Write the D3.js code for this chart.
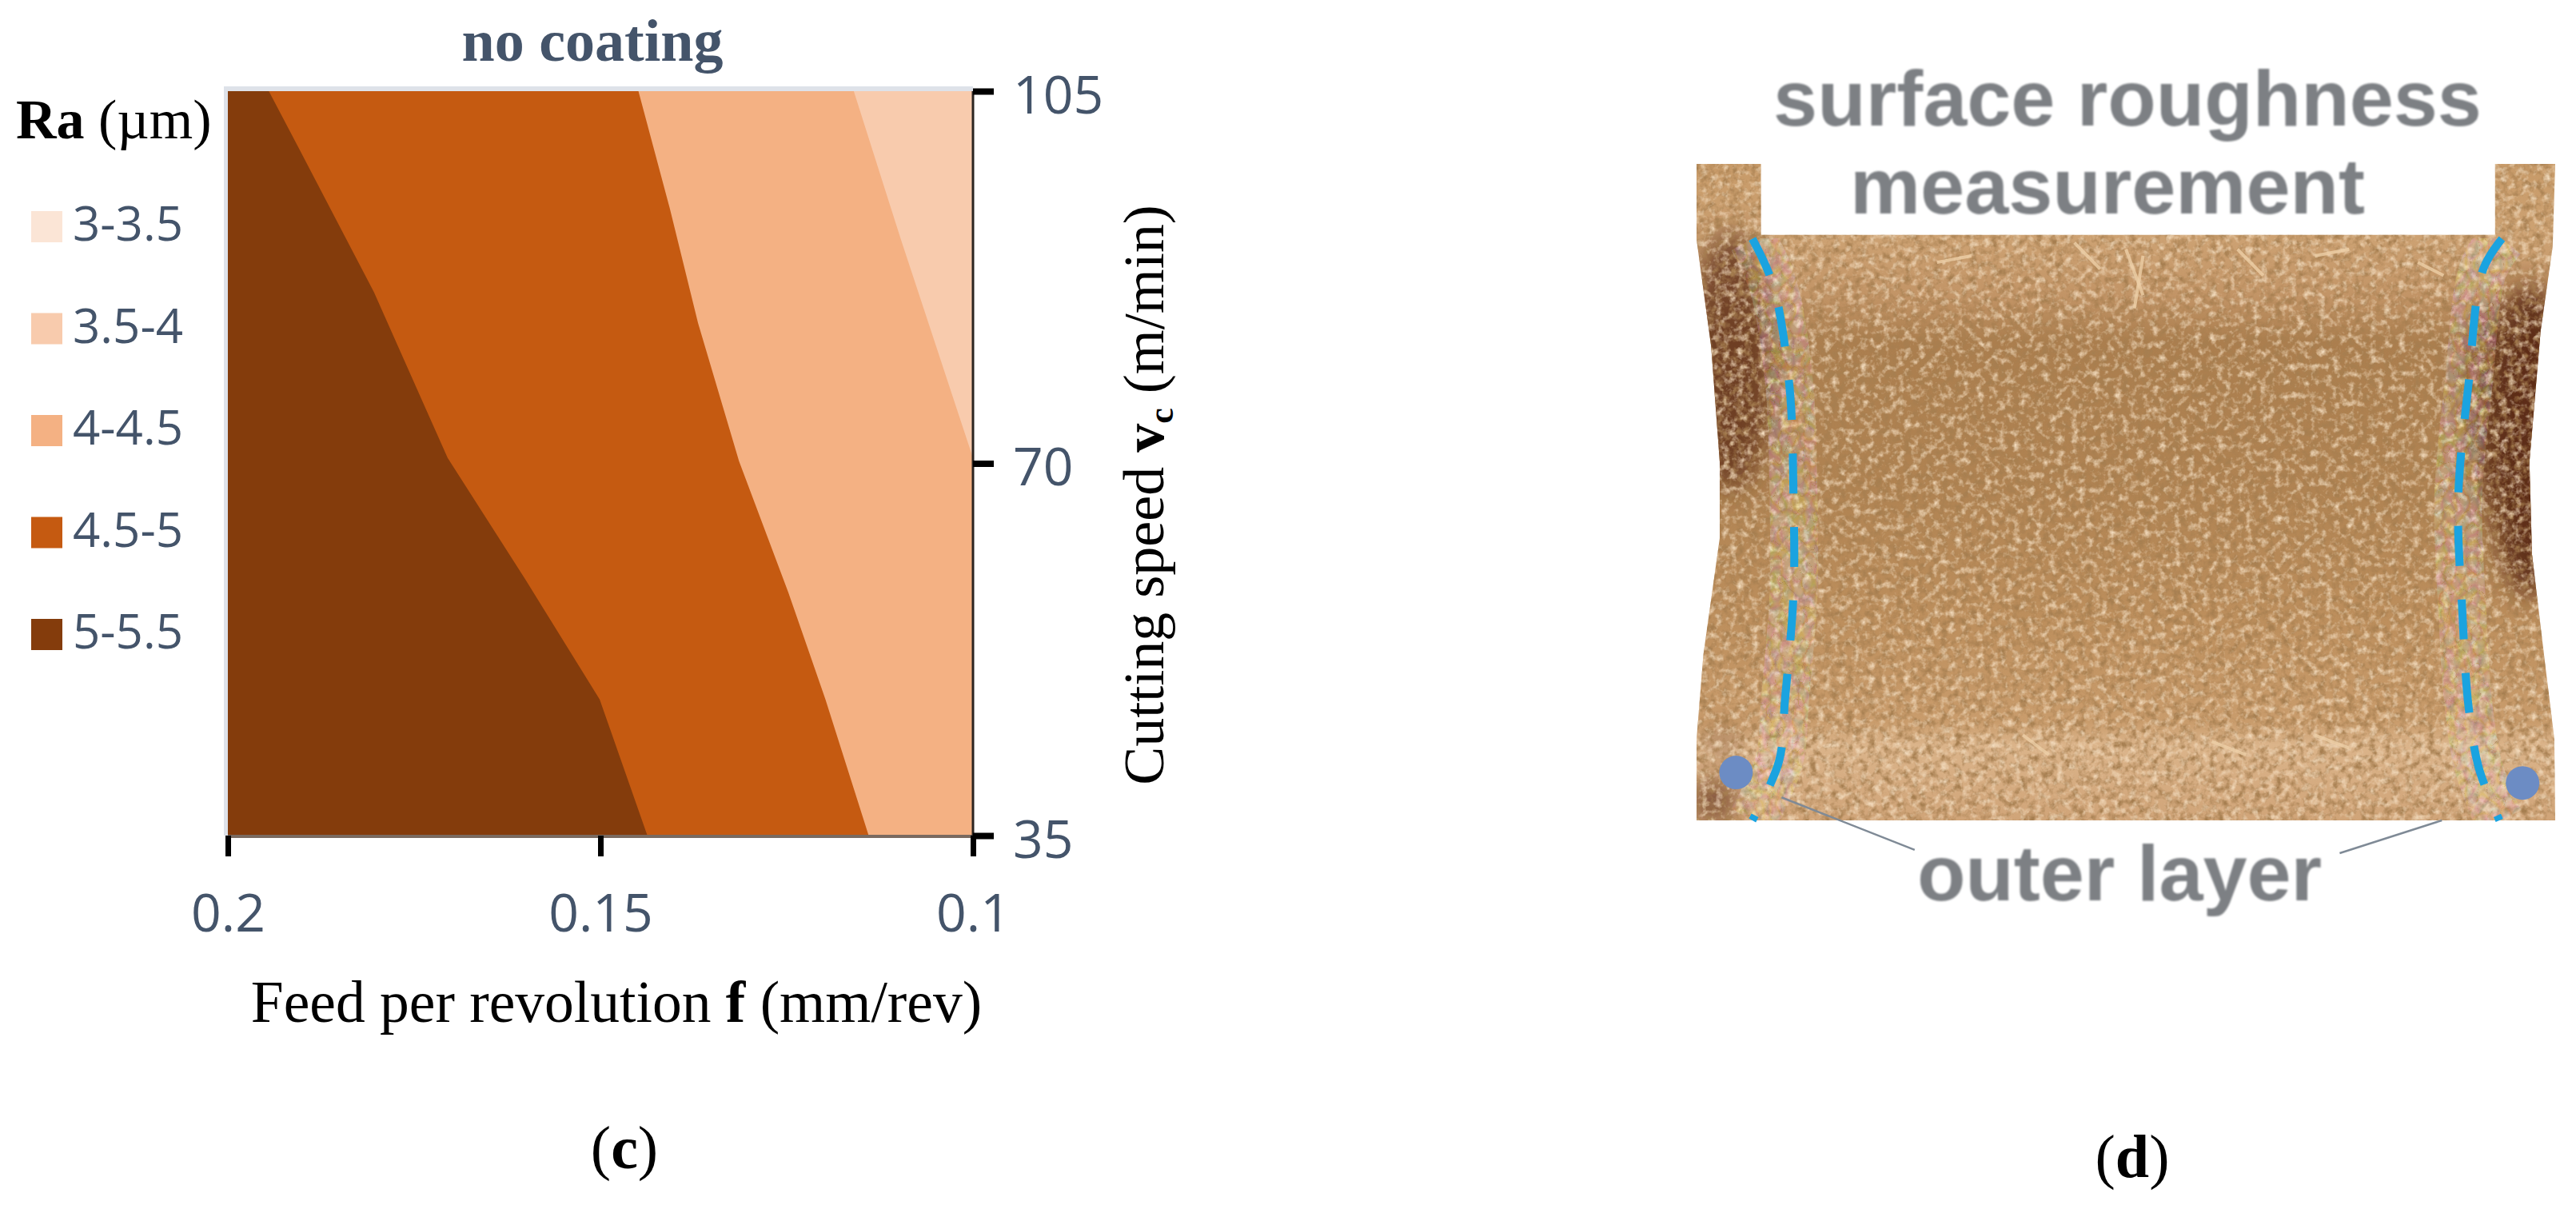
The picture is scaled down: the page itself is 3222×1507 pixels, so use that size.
<!DOCTYPE html>
<html>
<head>
<meta charset="utf-8">
<script src="https://cdn.jsdelivr.net/npm/d3@7"></script>
<style>
  html, body { margin: 0; padding: 0; background: #fff; }
  svg { display: block; }
  .serif { font-family: "Liberation Serif", serif; }
  .sans { font-family: "Open Sans", sans-serif; fill: #44546A; }
  .photo-label { font-family: "Liberation Sans", sans-serif; font-weight: bold; fill: #7d8084; }
</style>
</head>
<body>
<svg id="chart" width="3222" height="1507"></svg>
<script>
// panel (c) - axes
const feedTicks = [0.2, 0.15, 0.1];
const speedTicks = [35, 70, 105];

// contour lines [feed, speed], top to bottom
const contour5 = [[0.1945, 105], [0.1903, 99.4], [0.1804, 86.1], [0.1705, 70.5], [0.16, 59], [0.1501, 47.8], [0.1437, 35]];
const contour45 = [[0.1449, 105], [0.1407, 94], [0.1369, 83.2], [0.1314, 70.2], [0.1248, 57.9], [0.1198, 47.8], [0.114, 35]];
const contour4 = [[0.116, 105], [0.1097, 91.1], [0.1, 70.5]];

const legendLabels = ['3-3.5', '3.5-4', '4-4.5', '4.5-5', '5-5.5'];
const legendColors = ['#FBE5D6', '#F8CBAD', '#F4B183', '#C55A11', '#843C0C'];

// panel (d) - specimen drawing, in percent of the specimen box
const specimenOutline = [[0, 0], [7.5, 0], [7.5, 10.8], [93, 10.8], [93, 0], [100, 0], [99.7, 12.6], [98.3, 25.5], [97, 45.4], [97.3, 59.5], [98.8, 75.9], [99.9, 87.6], [100, 100], [0, 100], [0, 87.6], [0.8, 74.7], [2.7, 57], [2.7, 45.4], [1.7, 27.8], [0, 11.5]];
const dashLeft = [[6.5, 11.4], [8.9, 18.4], [10.8, 33.6], [11.3, 51.2], [11.3, 65.2], [10.3, 81.6], [9.6, 91], [6.5, 100]];
const dashRight = [[93.8, 11.4], [91.6, 16.1], [89.9, 33.6], [88.7, 51.2], [89.2, 68.6], [89.9, 82.6], [91.1, 92], [93.5, 100]];
const layerDots = [[4.6, 92.7], [96.2, 94.3]];
const leaderLines = [[[9.9, 96.5], [25.4, 104.5]], [[86.8, 100], [74.9, 105]]];
const darkPatches = [[4, 30, 5, 20, 0.75], [97, 42, 5, 24, 0.95], [92.5, 36, 3.5, 16, 0.5], [2, 97, 2.5, 3, 0.8], [3, 88, 2, 2, 0.4]];
const fibers = [[[50, 13], [52, 20]], [[52, 14], [51, 22]], [[44, 12], [47, 16]], [[63, 13], [66, 17]], [[72, 14], [76, 13]], [[60, 88], [64, 90]], [[38, 87], [41, 90]], [[72, 87], [76, 89]], [[28, 15], [32, 14]], [[84, 15], [87, 17]]];

const svg = d3.select('#chart');
const defs = svg.append('defs');

const x = d3.scaleLinear().domain([0.2, 0.1]).range([285, 1217]);
const y = d3.scaleLinear().domain([35, 105]).range([1045, 114]);
const line = d3.line().x(d => x(d[0])).y(d => y(d[1]));

// bands, lightest underneath
const chart = svg.append('g');
chart.append('rect').attr('x', 280).attr('y', 108).attr('width', 937).attr('height', 8).attr('fill', '#DEE2E9');
chart.append('rect').attr('x', 280).attr('y', 108).attr('width', 5).attr('height', 937).attr('fill', '#DEE2E9');

const bands = [
  { color: legendColors[1], pts: [[0.2, 105], [0.1, 105], [0.1, 35], [0.2, 35]] },
  { color: legendColors[2], pts: [[0.2, 105], ...contour4, [0.1, 35], [0.2, 35]] },
  { color: legendColors[3], pts: [[0.2, 105], ...contour45, [0.2, 35]] },
  { color: legendColors[4], pts: [[0.2, 105], ...contour5, [0.2, 35]] }
];
chart.selectAll('.band').data(bands).enter().append('path')
  .attr('class', 'band')
  .attr('d', d => line(d.pts) + 'Z')
  .attr('fill', d => d.color);

// frame
chart.append('line').attr('x1', x(0.2)).attr('x2', x(0.1)).attr('y1', y(35) + 1).attr('y2', y(35) + 1)
  .attr('stroke', '#7a6a60').attr('stroke-width', 4);
chart.append('line').attr('x1', x(0.1)).attr('x2', x(0.1)).attr('y1', y(105)).attr('y2', y(35))
  .attr('stroke', '#2b2420').attr('stroke-width', 3);

// axes
const xAxis = chart.append('g').attr('transform', `translate(0, ${y(35)})`)
  .call(d3.axisBottom(x).tickValues(feedTicks).tickSize(26).tickFormat(d => String(d)));
xAxis.select('.domain').remove();
xAxis.selectAll('line').attr('stroke', '#000').attr('stroke-width', 7);
xAxis.selectAll('text').attr('class', 'sans').attr('font-size', 66).attr('font-family', null).attr('dy', null).attr('y', 120);

const yAxis = chart.append('g').attr('transform', `translate(${x(0.1)}, 0)`)
  .call(d3.axisRight(y).tickValues(speedTicks).tickSize(26));
yAxis.select('.domain').remove();
yAxis.selectAll('line').attr('stroke', '#000').attr('stroke-width', 8);
yAxis.selectAll('text').attr('class', 'sans').attr('font-size', 66).attr('font-family', null).attr('x', 50).attr('dy', '0.41em');

// legend
const legend = chart.selectAll('.legend').data(legendLabels).enter().append('g')
  .attr('class', 'legend')
  .attr('transform', (d, i) => `translate(39, ${264 + i * 127.5})`);
legend.append('rect').attr('width', 39).attr('height', 39).attr('fill', (d, i) => legendColors[i]);
legend.append('text').attr('class', 'sans').attr('x', 52).attr('y', 37).attr('font-size', 60).text(d => d);

// titles
const ra = svg.append('text').attr('class', 'serif').attr('x', 20).attr('y', 173).attr('font-size', 70);
ra.append('tspan').attr('font-weight', 'bold').text('Ra');
ra.append('tspan').text(' (µm)');

svg.append('text').attr('class', 'serif').attr('x', 741).attr('y', 76).attr('text-anchor', 'middle')
  .attr('font-size', 74).attr('font-weight', 'bold').attr('fill', '#44546A').text('no coating');

const xTitle = svg.append('text').attr('class', 'serif').attr('x', 771).attr('y', 1278)
  .attr('text-anchor', 'middle').attr('font-size', 73.5);
xTitle.append('tspan').text('Feed per revolution ');
xTitle.append('tspan').attr('font-weight', 'bold').text('f');
xTitle.append('tspan').text(' (mm/rev)');

const yTitle = svg.append('text').attr('class', 'serif').attr('text-anchor', 'middle')
  .attr('transform', 'translate(1455, 619) rotate(-90)').attr('font-size', 72);
yTitle.append('tspan').text('Cutting speed ');
yTitle.append('tspan').attr('font-weight', 'bold').text('v');
yTitle.append('tspan').attr('font-weight', 'bold').attr('font-size', 44).attr('dy', 12).text('c');
yTitle.append('tspan').attr('dy', -12).text(' (m/min)');

const panelC = svg.append('text').attr('class', 'serif').attr('x', 781).attr('y', 1461)
  .attr('text-anchor', 'middle').attr('font-size', 76);
panelC.append('tspan').text('(');
panelC.append('tspan').attr('font-weight', 'bold').text('c');
panelC.append('tspan').text(')');

const panelD = svg.append('text').attr('class', 'serif').attr('x', 2667).attr('y', 1472)
  .attr('text-anchor', 'middle').attr('font-size', 76);
panelD.append('tspan').text('(');
panelD.append('tspan').attr('font-weight', 'bold').text('d');
panelD.append('tspan').text(')');

// panel (d): specimen photo stand-in
const px = d3.scaleLinear().domain([0, 100]).range([2122, 3196]);
const py = d3.scaleLinear().domain([0, 100]).range([205, 1026]);
const pline = d3.line().x(d => px(d[0])).y(d => py(d[1]));

const shade = defs.append('linearGradient').attr('id', 'specimenShade').attr('x1', 0).attr('y1', 0).attr('x2', 0).attr('y2', 1);
[[0, '#c79a68'], [0.11, '#cda273'], [0.2, '#c29466'], [0.27, '#ab7e4e'], [0.5, '#b08352'], [0.7, '#bd8f5d'], [0.85, '#c99c6c'], [0.885, '#dbb48a'], [1, '#d0a478']]
  .forEach(s => shade.append('stop').attr('offset', s[0]).attr('stop-color', s[1]));

// dark and light speckle of the surface
const grain = defs.append('filter').attr('id', 'grain').attr('x', 0).attr('y', 0).attr('width', 1).attr('height', 1);
grain.append('feTurbulence').attr('type', 'fractalNoise').attr('baseFrequency', 0.11).attr('numOctaves', 3).attr('seed', 4);
grain.append('feColorMatrix').attr('values', '0 0 0 0 0.38  0 0 0 0 0.21  0 0 0 0 0.08  2.5 0 0 0 -1.05');

const grainLight = defs.append('filter').attr('id', 'grainLight').attr('x', 0).attr('y', 0).attr('width', 1).attr('height', 1);
grainLight.append('feTurbulence').attr('type', 'fractalNoise').attr('baseFrequency', 0.11).attr('numOctaves', 3).attr('seed', 11);
grainLight.append('feColorMatrix').attr('values', '0 0 0 0 0.9  0 0 0 0 0.72  0 0 0 0 0.52  0 2.2 0 0 -1.05');

// jpeg colour blocks along the dashed lines
const chroma = defs.append('filter').attr('id', 'chroma').attr('x', '-300%').attr('y', 0).attr('width', '700%').attr('height', 1);
chroma.append('feTurbulence').attr('type', 'turbulence').attr('baseFrequency', '0.07 0.05').attr('numOctaves', 1).attr('seed', 7).attr('result', 'n');
chroma.append('feColorMatrix').attr('in', 'n').attr('values', '2.5 0 0 0 0.45  0 2.5 0 0 0.3  0 0 3 0 0.1  0 0 0 0 1').attr('result', 'c');
chroma.append('feComposite').attr('in', 'c').attr('in2', 'SourceGraphic').attr('operator', 'in');

const soft = defs.append('filter').attr('id', 'soft').attr('x', '-80%').attr('y', '-80%').attr('width', '260%').attr('height', '260%');
soft.append('feGaussianBlur').attr('stdDeviation', 16);

const blurText = defs.append('filter').attr('id', 'blurText');
blurText.append('feGaussianBlur').attr('stdDeviation', 1);

defs.append('clipPath').attr('id', 'specimenClip').append('path').attr('d', pline(specimenOutline) + 'Z');

const boxW = px(100) - px(0);
const boxH = py(100) - py(0);
const photo = svg.append('g').attr('clip-path', 'url(#specimenClip)');
photo.append('rect').attr('x', px(0)).attr('y', py(0)).attr('width', boxW).attr('height', boxH).attr('fill', 'url(#specimenShade)');
photo.selectAll('.patch').data(darkPatches).enter().append('ellipse')
  .attr('class', 'patch')
  .attr('cx', d => px(d[0])).attr('cy', d => py(d[1]))
  .attr('rx', d => px(d[2]) - px(0)).attr('ry', d => py(d[3]) - py(0))
  .attr('fill', '#5a2c12').attr('opacity', d => d[4]).attr('filter', 'url(#soft)');
photo.append('rect').attr('x', px(0)).attr('y', py(0)).attr('width', boxW).attr('height', boxH).attr('filter', 'url(#grain)');
photo.append('rect').attr('x', px(0)).attr('y', py(0)).attr('width', boxW).attr('height', boxH).attr('filter', 'url(#grainLight)');
photo.selectAll('.fiber').data(fibers).enter().append('path')
  .attr('class', 'fiber')
  .attr('d', d => pline(d)).attr('fill', 'none').attr('stroke', '#edcfa8').attr('stroke-width', 4).attr('opacity', 0.8);
photo.selectAll('.chroma').data([dashLeft, dashRight]).enter().append('path')
  .attr('class', 'chroma')
  .attr('d', d3.line().x(d => px(d[0])).y(d => py(d[1])).curve(d3.curveCatmullRom))
  .attr('fill', 'none').attr('stroke', '#000').attr('stroke-width', 60)
  .attr('opacity', 0.22).attr('filter', 'url(#chroma)');

svg.selectAll('.dash').data([dashLeft, dashRight]).enter().append('path')
  .attr('class', 'dash')
  .attr('d', d3.line().x(d => px(d[0])).y(d => py(d[1])).curve(d3.curveCatmullRom))
  .attr('fill', 'none').attr('stroke', '#1AA3E0').attr('stroke-width', 10).attr('stroke-dasharray', '50 42');

svg.selectAll('.dot').data(layerDots).enter().append('circle')
  .attr('class', 'dot')
  .attr('cx', d => px(d[0])).attr('cy', d => py(d[1])).attr('r', 21).attr('fill', '#6C8CC4');

svg.selectAll('.leader').data(leaderLines).enter().append('path')
  .attr('class', 'leader')
  .attr('d', d => pline(d)).attr('fill', 'none').attr('stroke', '#7f8a96').attr('stroke-width', 2.5);

const photoLabels = [['surface roughness', 157, 2661], ['measurement', 267, 2636], ['outer layer', 1126, 2651]];
svg.selectAll('.photo-label').data(photoLabels).enter().append('text')
  .attr('class', 'photo-label')
  .attr('x', d => d[2]).attr('y', d => d[1])
  .attr('text-anchor', 'middle').attr('font-size', 99).attr('filter', 'url(#blurText)')
  .text(d => d[0]);
</script>
</body>
</html>
